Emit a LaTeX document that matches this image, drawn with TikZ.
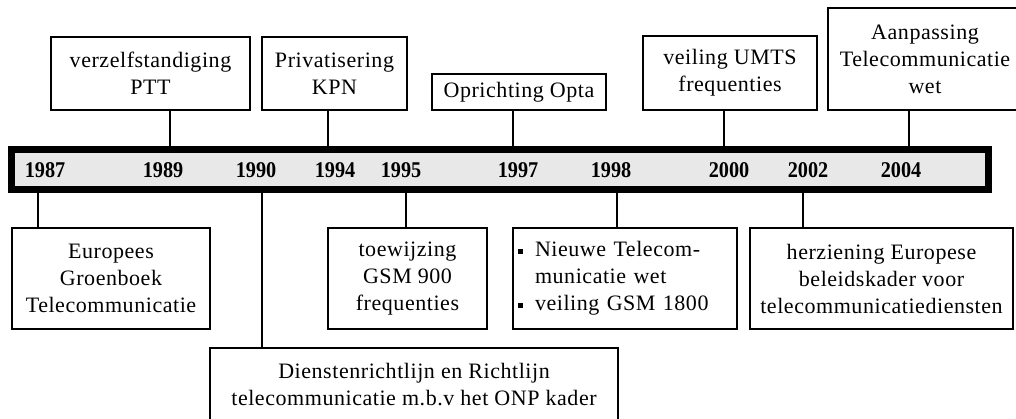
\documentclass[tikz,border=0pt]{standalone}
\usepackage{fontspec}
\setmainfont[LetterSpace=2.5]{Liberation Serif}
\newfontfamily\yearfont[FakeStretch=0.9]{Liberation Serif}
\newcommand\bul{\raisebox{3pt}{\rule{5pt}{5pt}}}
\begin{document}
\begin{tikzpicture}[x=1pt,y=-1pt,
  box/.style={draw=black, line width=1.4pt, align=center, inner sep=0pt,
    font=\fontsize{22}{27}\selectfont},
  tick/.style={draw=black, line width=1.4pt},
  year/.style={font=\yearfont\bfseries\fontsize{22.5}{22}\selectfont, inner sep=0pt},
  timebar/.style={draw=black, fill=gray!18, line width=7pt, minimum width=977pt,
    minimum height=40pt, inner sep=0pt}]
\useasboundingbox (0,0) rectangle (1016,418);
\clip (0,0) rectangle (1016,418);

% upper boxes
\node[box, minimum width=199pt, minimum height=73pt] (ptt) at (150.5,73.5) {verzelfstandiging\\PTT};
\node[box, minimum width=145pt, minimum height=73pt] (kpn) at (334.5,73.5) {Privatisering\\KPN};
\node[box, minimum width=174pt, minimum height=36pt] (opta) at (519,92) {Oprichting Opta};
\node[box, minimum width=174pt, minimum height=74pt] (umts) at (730,73) {veiling UMTS\\frequenties};
\node[box, minimum width=194pt, minimum height=102pt] (aan) at (925,59) {Aanpassing\\Telecommunicatie\\wet};

% lower boxes
\node[box, minimum width=198pt, minimum height=101pt] (eur) at (111,278.5) {Europees\\Groenboek\\Telecommunicatie};
\node[box, minimum width=159pt, minimum height=101pt] (toe) at (407.5,278.5) {toewijzing\\GSM 900\\frequenties};
\node[box, minimum width=224pt, minimum height=101pt, align=left, inner xsep=5pt, text width=214pt] (nieuw) at (625,278.5)
  {\bul\hspace{12pt}Nieuwe Telecom-\\\hspace{17pt}municatie wet\\\bul\hspace{12pt}veiling GSM 1800};
\node[box, minimum width=263pt, minimum height=101pt] (herz) at (881.5,278.5) {herziening Europese\\beleidskader voor\\telecommunicatiediensten};
\node[box, minimum width=408pt, minimum height=74pt] (dien) at (414,385) {Dienstenrichtlijn en Richtlijn\\telecommunicatie m.b.v het ONP kader};

% tick points on the bar
\coordinate (t87) at (38,169.5);
\coordinate (t89) at (170,169.5);
\coordinate (t90) at (262,169.5);
\coordinate (t94) at (328,169.5);
\coordinate (t95) at (406,169.5);
\coordinate (t97) at (513,169.5);
\coordinate (t98) at (617,169.5);
\coordinate (t00) at (724,169.5);
\coordinate (t02) at (803,169.5);
\coordinate (t04) at (909,169.5);

\draw[tick] (t89) -- (t89 |- ptt.south);
\draw[tick] (t94) -- (t94 |- kpn.south);
\draw[tick] (t97) -- (t97 |- opta.south);
\draw[tick] (t00) -- (t00 |- umts.south);
\draw[tick] (t04) -- (t04 |- aan.south);
\draw[tick] (t87) -- (t87 |- eur.north);
\draw[tick] (t90) -- (t90 |- dien.north);
\draw[tick] (t95) -- (t95 |- toe.north);
\draw[tick] (t98) -- (t98 |- nieuw.north);
\draw[tick] (t02) -- (t02 |- herz.north);

% the bar
\node[timebar] (bar) at (500,169.5) {};

% years
\node[year] (y87) at (45,170) {1987};
\node[year] (y89) at (163,170) {1989};
\node[year] (y90) at (256,170) {1990};
\node[year] (y94) at (335,170) {1994};
\node[year] (y95) at (401,170) {1995};
\node[year] (y97) at (518,170) {1997};
\node[year] (y98) at (611,170) {1998};
\node[year] (y00) at (729,170) {2000};
\node[year] (y02) at (808,170) {2002};
\node[year] (y04) at (901,170) {2004};
\end{tikzpicture}
\end{document}
